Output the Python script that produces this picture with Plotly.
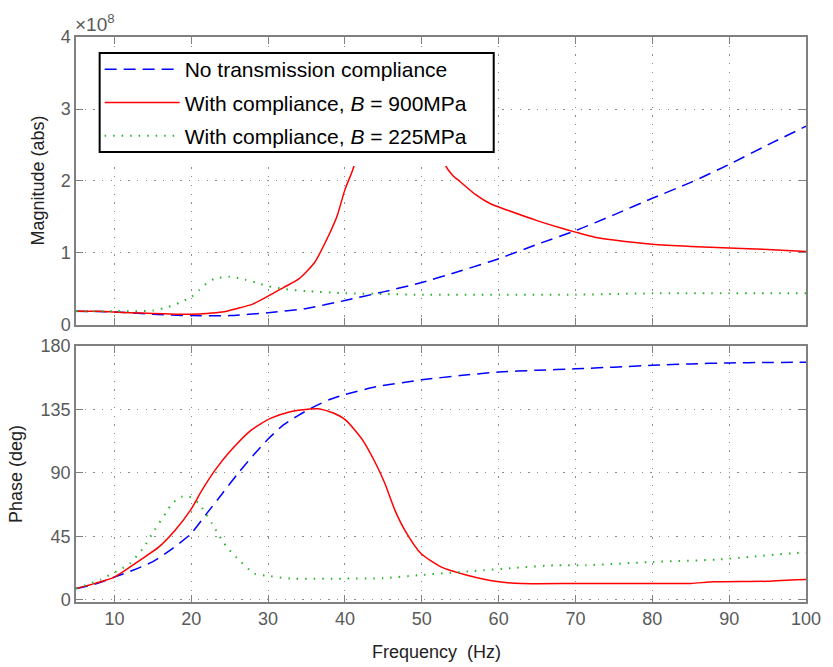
import plotly.graph_objects as go

# ---- Magnitude data (values in units of 1e8) ----
f_mag_none = [5, 10, 15, 20, 25, 30, 35, 40, 45, 50, 55, 60, 65, 70, 75, 80, 85, 90, 95, 100]
mag_none = [0.19, 0.18, 0.15, 0.13, 0.13, 0.17, 0.23, 0.34, 0.46, 0.59, 0.75, 0.92, 1.12, 1.31,
            1.53, 1.76, 1.98, 2.23, 2.50, 2.76]

f_mag_900 = [5, 8, 10, 12, 15, 18, 20, 22, 24, 26, 28, 30, 32, 34, 36, 38, 39, 40, 41, 42, 44,
             46, 47.5, 49, 51, 52, 53, 54, 55, 57, 59, 61, 65, 68, 70, 72.5, 75, 80, 85, 90, 95, 100]
mag_900 = [0.19, 0.19, 0.18, 0.17, 0.16, 0.15, 0.15, 0.16, 0.18, 0.23, 0.29, 0.40, 0.52, 0.64,
           0.86, 1.27, 1.52, 1.88, 2.15, 2.50, 3.00, 3.45, 3.55, 3.45, 2.95, 2.60, 2.23, 2.08,
           1.99, 1.81, 1.68, 1.60, 1.45, 1.35, 1.29, 1.22, 1.18, 1.12, 1.09, 1.07, 1.05, 1.02]

f_mag_225 = [5, 10, 13, 15, 17, 18.5, 20, 21, 22, 23, 25, 27, 29, 30, 32, 35, 40, 45, 50, 60,
             70, 75, 80, 90, 100]
mag_225 = [0.19, 0.19, 0.19, 0.20, 0.25, 0.31, 0.39, 0.48, 0.58, 0.64, 0.67, 0.63, 0.57, 0.54,
           0.50, 0.47, 0.44, 0.43, 0.42, 0.42, 0.42, 0.43, 0.44, 0.44, 0.44]

# ---- Phase data (deg) ----
f_ph_none = [5, 7.5, 10, 12.5, 15, 17.5, 20, 22, 24, 26, 28, 30, 32, 34, 36, 38, 40, 44, 50,
             55, 60, 65, 70, 75, 80, 85, 90, 95, 100]
ph_none = [7.8, 11, 16, 21, 27, 36, 47, 61, 75, 89, 102, 114, 124, 131, 137, 142, 145.5, 151,
           156, 159, 161.5, 162.8, 163.8, 165, 166.3, 167.3, 168, 168.3, 168.4]

f_ph_900 = [5, 7.5, 10, 13.3, 15.8, 17.9, 19.9, 21.4, 23.1, 25.2, 27.8, 30.3, 32.9, 35.4, 36.5,
            38.4, 40.1, 42.3, 44, 45.2, 46.5, 47.8, 49.9, 52.5, 55.9, 59.8, 63, 70, 80, 85,
            88, 95, 98, 100]
ph_900 = [7.8, 11.5, 16, 27.9, 37.4, 49.2, 63.5, 77.7, 91.9, 106.1, 120.3, 128.6, 133.3, 135.2,
          135.5, 132.6, 127.4, 113.2, 96.6, 82.4, 63.5, 49.2, 32.7, 23.2, 17.3, 12.8, 11.4,
          11.4, 11.4, 11.5, 12.6, 13.0, 14.0, 14.2]

f_ph_225 = [5, 8.2, 10.7, 12, 13.7, 15.2, 16.7, 17.5, 18.7, 19.6, 21, 22.7, 24, 24.8, 25.9,
            28.2, 30.3, 32.9, 40, 45, 49.5, 56.7, 62, 67.4, 71.3, 79.9, 88.4, 92.6, 98.7, 100]
ph_225 = [7.8, 14.2, 21.3, 25.6, 36.2, 49.2, 61.5, 68.2, 72.9, 73.5, 68.2, 54, 42.1, 36.2, 29.8,
          18.5, 16.6, 14.9, 14.9, 15.2, 17.3, 20.3, 22.5, 24.4, 24.4, 26.7, 28.4, 30.3, 33.1, 33.5]

names = ["No transmission compliance",
         "With compliance, <i>B</i> = 900MPa",
         "With compliance, <i>B</i> = 225MPa"]

FONT = "Liberation Sans, Arial, Helvetica, sans-serif"
blue, red, green = "#0000ff", "#ff0000", "#22b522"

fig = go.Figure()

line_none = dict(color=blue, width=1.5, dash="12px,7px", shape="spline", smoothing=0.6)
line_900 = dict(color=red, width=1.5, shape="spline", smoothing=0.6)
line_225 = dict(color=green, width=2, dash="1.5px,7px", shape="spline", smoothing=0.6)

fig.add_trace(go.Scatter(x=f_mag_none, y=mag_none, mode="lines", line=line_none, name=names[0],
                         legendgroup="a", xaxis="x", yaxis="y"))
fig.add_trace(go.Scatter(x=f_mag_900, y=mag_900, mode="lines", line=line_900, name=names[1],
                         legendgroup="b", xaxis="x", yaxis="y"))
fig.add_trace(go.Scatter(x=f_mag_225, y=mag_225, mode="lines", line=line_225, name=names[2],
                         legendgroup="c", xaxis="x", yaxis="y"))

fig.add_trace(go.Scatter(x=f_ph_none, y=ph_none, mode="lines", line=line_none, showlegend=False,
                         xaxis="x2", yaxis="y2"))
fig.add_trace(go.Scatter(x=f_ph_900, y=ph_900, mode="lines", line=line_900, showlegend=False,
                         xaxis="x2", yaxis="y2"))
fig.add_trace(go.Scatter(x=f_ph_225, y=ph_225, mode="lines", line=line_225, showlegend=False,
                         xaxis="x2", yaxis="y2"))

axis_common = dict(
    showline=True, linecolor="#808080", linewidth=1.5, mirror="ticks",
    ticks="inside", ticklen=7, tickcolor="#808080", tickwidth=1.2,
    showgrid=True, gridcolor="#8c8c8c", gridwidth=1, griddash="1.3px,7.4px",
    zeroline=False, tickfont=dict(family=FONT, size=18, color="#5a5a5a"),
)

x_ticks = [10, 20, 30, 40, 50, 60, 70, 80, 90, 100]

fig.update_layout(
    width=833, height=667,
    margin=dict(l=76, r=16, t=37, b=65),
    paper_bgcolor="white", plot_bgcolor="white",
    font=dict(family=FONT, color="#222"),
    xaxis=dict(domain=[0, 1], range=[5, 100], tickvals=x_ticks, showticklabels=False,
               anchor="y", **axis_common),
    yaxis=dict(domain=[0.4903, 1], range=[0, 4], tickvals=[0, 1, 2, 3, 4], anchor="x",
               **axis_common),
    xaxis2=dict(domain=[0, 1], range=[5, 100], tickvals=x_ticks, anchor="y2", **axis_common),
    yaxis2=dict(domain=[0, 0.4531], range=[-1.7, 180], tickvals=[0, 45, 90, 135, 180],
                anchor="x2", **axis_common),
    legend=dict(x=0.0324, y=0.9788, xanchor="left", yanchor="top",
                bgcolor="rgba(255,255,255,0)", borderwidth=0,
                font=dict(family=FONT, size=21, color="black"),
                itemwidth=75, tracegroupgap=3, traceorder="grouped"),
    showlegend=True,
)

# white backing behind the legend (extends a little below its frame)
fig.add_shape(type="rect", xref="paper", yref="paper", x0=0.0324, x1=0.5722,
              y0=0.7717, y1=0.9717, fillcolor="white", line=dict(width=0), layer="above")
# legend frame
fig.add_shape(type="rect", xref="paper", yref="paper", x0=0.0324, x1=0.5722,
              y0=0.7965, y1=0.9717, fillcolor="white", line=dict(color="black", width=2),
              layer="above")

# axis titles and exponent label
fig.add_annotation(text="Magnitude (abs)", xref="paper", yref="paper", x=-0.0526, y=0.7452,
                   textangle=-90, showarrow=False, font=dict(family=FONT, size=18, color="#222"),
                   xanchor="center", yanchor="middle")
fig.add_annotation(text="Phase (deg)", xref="paper", yref="paper", x=-0.0823, y=0.2265,
                   textangle=-90, showarrow=False, font=dict(family=FONT, size=18, color="#222"),
                   xanchor="center", yanchor="middle")
fig.add_annotation(text="Frequency  (Hz)", xref="paper", yref="paper", x=0.494, y=-0.088,
                   showarrow=False, font=dict(family=FONT, size=18, color="#222"),
                   xanchor="center", yanchor="middle")
fig.add_annotation(text="×10<sup>8</sup>", xref="paper", yref="paper", x=-0.004, y=1.0,
                   showarrow=False, font=dict(family=FONT, size=19, color="#5a5a5a"),
                   xanchor="left", yanchor="bottom")

fig.write_html("out.html")
